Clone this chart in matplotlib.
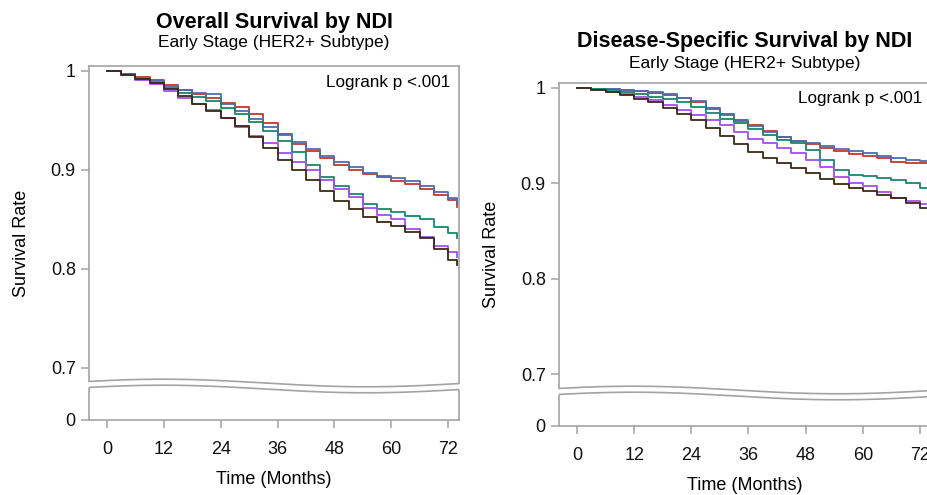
import matplotlib.pyplot as plt
import numpy as np

# Kaplan-Meier estimates, every 3 months (last point = end of follow-up)
months = [0, 3, 6, 9, 12, 15, 18, 21, 24, 27, 30, 33, 36, 39, 42, 45, 48, 51, 54, 57, 60, 63, 66, 69, 72, 74]

# Overall survival
os_red = [1, .997, .994, .991, .986, .981, .977, .973, .968, .964, .957, .947, .936, .926, .919, .912, .905, .900,
          .896, .893, .889, .886, .881, .875, .870, .863]
os_blue = [1, .997, .993, .990, .985, .981, .978, .977, .967, .960, .952, .943, .935, .928, .921, .914, .908, .903,
           .897, .894, .892, .889, .884, .878, .872, .867]
os_teal = [1, .997, .992, .988, .983, .978, .974, .970, .963, .957, .948, .939, .929, .918, .905, .893, .884, .876,
           .866, .861, .858, .854, .850, .842, .836, .831]
os_purple = [1, .996, .991, .987, .980, .973, .967, .961, .953, .943, .934, .927, .917, .908, .900, .890, .881, .873,
             .862, .855, .850, .840, .832, .823, .817, .812]
os_dark = [1, .996, .992, .988, .982, .975, .967, .960, .953, .944, .933, .922, .910, .900, .890, .879, .869, .861,
           .853, .847, .843, .837, .831, .820, .809, .804]

# Disease-specific survival
dss_red = [1, .999, .999, .998, .997, .995, .993, .990, .985, .979, .973, .967, .961, .955, .949, .944, .941, .937,
           .934, .931, .929, .927, .922, .921, .921, .920]
dss_blue = [1, .999, .999, .998, .997, .996, .994, .990, .986, .978, .972, .965, .960, .954, .949, .945, .942, .939,
            .936, .934, .932, .929, .927, .925, .924, .922]
dss_teal = [1, .999, .998, .996, .994, .991, .988, .985, .980, .974, .968, .963, .957, .951, .946, .942, .935, .925,
            .914, .909, .908, .906, .904, .900, .895, .892]
dss_purple = [1, .998, .996, .994, .991, .987, .982, .977, .972, .966, .961, .954, .947, .942, .937, .932, .925, .917,
              .907, .901, .897, .891, .885, .882, .879, .876]
dss_dark = [1, .998, .996, .993, .989, .985, .979, .973, .966, .958, .950, .941, .933, .927, .921, .916, .911, .905,
            .899, .895, .892, .888, .885, .880, .874, .870]

line_colors = ['#c0392b', '#4a6db5', '#17876b', '#a64cf0', '#3b2a12']
x_ticks = [0, 12, 24, 36, 48, 60, 72]
y_ticks = [0.7, 0.8, 0.9, 1.0]
y_tick_labels = ['0.7', '0.8', '0.9', '1']

W, H = 928, 495
plt.rcParams['font.family'] = ['Liberation Sans', 'DejaVu Sans']
fig = plt.figure(figsize=(W / 100, H / 100), dpi=100)

# overlay in pixel coordinates for the axis-break waves
ov = fig.add_axes([0, 0, 1, 1], zorder=10)
ov.set_xlim(0, W)
ov.set_ylim(H, 0)
ov.axis('off')
ov.patch.set_visible(False)

frame_col = '#a3a3a3'


def px_box(l, t, r, b):
    return [l / W, 1 - b / H, (r - l) / W, (b - t) / H]


def panel(curves, left, right, top, split, bottom, one_px, tenth_px, zero_px, x0_px, x72_px,
          title, title_y, sub_y, logrank_y):
    ppm = (x72_px - x0_px) / 72.0
    xlim = ((left - x0_px) / ppm, (right - x0_px) / ppm)

    up = fig.add_axes(px_box(left, top, right, split))
    up.set_xlim(*xlim)
    up.set_ylim(1 - (split - one_px) / (tenth_px * 10), 1 + (one_px - top) / (tenth_px * 10))
    for vals, c in zip(curves, line_colors):
        up.plot(months, vals, drawstyle='steps-post', color=c, lw=1.3)
    up.set_yticks(y_ticks)
    up.set_yticklabels(y_tick_labels)
    up.set_xticks([])
    up.spines['bottom'].set_visible(False)

    lo = fig.add_axes(px_box(left, split, right, bottom))
    lo.set_xlim(*xlim)
    lo.set_ylim(-(bottom - zero_px), split - zero_px)
    lo.set_yticks([0])
    lo.set_yticklabels(['0'])
    lo.set_xticks(x_ticks)
    lo.set_xticklabels([str(t) for t in x_ticks])
    lo.spines['top'].set_visible(False)

    for ax in (up, lo):
        for s in ax.spines.values():
            s.set_color(frame_col)
            s.set_linewidth(1.2)
        ax.tick_params(direction='out', length=6, width=1.1, color=frame_col,
                       labelsize=13, labelcolor='#111111')
        ax.tick_params(axis='y', pad=3.5)
        ax.tick_params(axis='x', pad=9)

    # wavy axis break
    xs = np.linspace(left - 2, right + 2, 300)
    frac = (xs - left) / (right - left)
    upper = split - 2 - 3.8 * np.cos(2 * np.pi * (frac - 0.2) / 1.1)
    lower = upper + 6
    ov.fill_between(xs, upper, lower, color='white', lw=0)
    inside = (xs >= left) & (xs <= right)
    ov.plot(xs[inside], upper[inside], color=frame_col, lw=1.2)
    ov.plot(xs[inside], lower[inside], color=frame_col, lw=1.2)

    cx = (left + right) / 2
    fig.text(cx / W, 1 - title_y / H, title, ha='center', va='baseline', fontsize=15.5, fontweight='bold')
    fig.text(cx / W, 1 - sub_y / H, 'Early Stage (HER2+ Subtype)', ha='center', va='baseline', fontsize=12.5)
    fig.text((right - 9) / W, 1 - logrank_y / H, 'Logrank p <.001', ha='right', va='center', fontsize=12.3)
    fig.text(cx / W, 1 - (bottom + 60) / H, 'Time (Months)', ha='center', va='center', fontsize=13)
    fig.text((left - 67) / W, 1 - (top + bottom) / 2 / H, 'Survival Rate', ha='center', va='center',
             rotation=90, fontsize=13)


panel([os_red, os_blue, os_teal, os_purple, os_dark], 89, 459, 66, 385, 420, 71, 99, 417, 107, 448,
      'Overall Survival by NDI', 28, 47, 82)
panel([dss_red, dss_blue, dss_teal, dss_purple, dss_dark], 559, 931, 83, 392, 426, 88, 95.5, 422, 577, 920,
      'Disease-Specific Survival by NDI', 47, 68, 98)

fig.savefig('out.png', dpi=100)
